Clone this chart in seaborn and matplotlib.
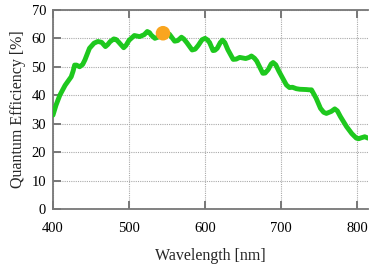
import matplotlib
matplotlib.use("Agg")
import matplotlib.pyplot as plt
import seaborn as sns
import pandas as pd

wavelength = [400, 404, 409, 416, 424, 426.5, 428.5, 431, 435, 439, 442, 448, 454, 459, 464, 469, 472,
              475, 480, 483, 486, 493, 496, 500, 507, 514, 520, 524, 527, 529, 534, 540, 547, 553,
              560, 564, 569, 572, 576, 583, 587, 591, 596, 600, 603, 606, 610.5, 613, 616, 620, 623,
              626, 630, 637, 641, 645.6, 653.5, 658, 661, 665, 668, 676, 679, 683, 687, 689.5, 693,
              697, 707, 711, 715, 720, 724.6, 733, 737, 740, 746, 751.8, 756, 759.6, 766, 770.6,
              774, 778, 786, 793, 799, 802, 805, 810, 814.5]
qe = [33, 36.5, 40, 43.5, 46.5, 48.5, 50.6, 50.6, 50, 50.8, 52.4, 56.5, 58.3, 58.9, 58.6, 57.1, 57.8,
      58.8, 59.8, 59.6, 58.8, 56.7, 57.5, 59.3, 61, 60.6, 61.3, 62.4, 62, 61.2, 60, 60.6, 62, 61.5,
      59, 59.2, 60.4, 59.8, 58.5, 55.9, 56.2, 57.5, 59.5, 60, 59.5, 58.5, 55.7, 55.8, 56.5, 58.5, 59.4,
      58.5, 56, 52.6, 52.7, 53.3, 52.9, 53.3, 53.8, 53, 52, 47.7, 47.8, 49, 51, 51.5, 50.7,
      48.5, 43.6, 42.7, 42.8, 42.3, 42.1, 42, 41.9, 41.9, 39, 35.4, 34, 33.6, 34.3, 35.2,
      34.5, 32.5, 29, 26.5, 24.9, 24.7, 25, 25.4, 24.9]
peak_wl = [544.7]
peak_qe = [61.8]

x_ticks = [400, 500, 600, 700, 800]
y_ticks = [0, 10, 20, 30, 40, 50, 60, 70]

df = pd.DataFrame({"Wavelength": wavelength, "QE": qe})
peak = pd.DataFrame({"Wavelength": peak_wl, "QE": peak_qe})

sns.set_theme(style="white")
plt.rcParams["font.family"] = ["Liberation Serif", "DejaVu Serif"]

fig = plt.figure(figsize=(3.73, 2.75), dpi=100)
ax = fig.add_axes([0.142, 0.24, 0.845, 0.724])

sns.lineplot(data=df, x="Wavelength", y="QE", ax=ax, color="#1ec81e", linewidth=3.5,
             solid_capstyle="round", solid_joinstyle="round", zorder=3)
sns.scatterplot(data=peak, x="Wavelength", y="QE", ax=ax, color="#f9a51f", s=110,
                edgecolor="none", zorder=4)

ax.set_xlim(400, 814.5)
ax.set_ylim(0, 70)
ax.set_xticks(x_ticks)
ax.set_yticks(y_ticks)
ax.grid(True, color="#aaaaaa", linestyle=(0, (1, 1)), linewidth=0.8)
ax.set_axisbelow(True)

for s in ["left", "bottom", "top"]:
    ax.spines[s].set_color("#777777")
    ax.spines[s].set_linewidth(1.3)
ax.spines["right"].set_visible(False)

ax.tick_params(axis="x", direction="in", length=6, width=1.4, color="#777777",
               top=True, bottom=True, labelsize=10.5, pad=9, labelcolor="black")
ax.tick_params(axis="y", direction="in", length=6, width=1.4, color="#777777",
               left=True, right=False, labelsize=10.5, pad=5, labelcolor="black")

ax.set_xlabel("Wavelength [nm]", fontsize=11.5, labelpad=10)
ax.set_ylabel("Quantum Efficiency [%]", fontsize=11.5, labelpad=4)

fig.savefig("out.png", dpi=100)
